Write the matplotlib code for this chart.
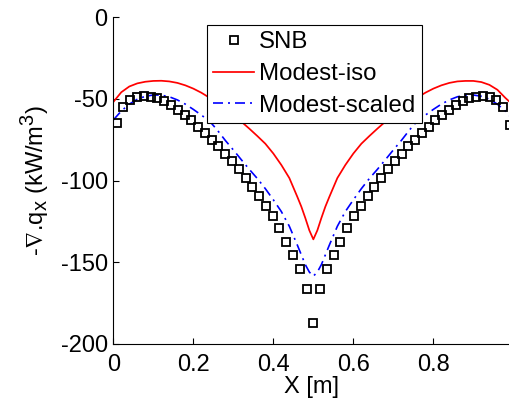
import matplotlib
matplotlib.use("Agg")
import matplotlib.pyplot as plt
try:
    import matplotlib._mathtext as _mt
    _mt.SHRINK_FACTOR = 0.85
except Exception:
    pass

plt.rcParams['font.family'] = ['Liberation Sans', 'DejaVu Sans']
plt.rcParams['mathtext.fontset'] = 'custom'
plt.rcParams['mathtext.rm'] = 'Liberation Sans'
plt.rcParams['mathtext.it'] = 'Liberation Sans'
plt.rcParams['mathtext.sf'] = 'Liberation Sans'
plt.rcParams['mathtext.default'] = 'regular'
plt.rcParams['mathtext.fallback'] = 'stixsans'

# ---------------- data ----------------
snb_x = [(i + 0.5) / 59 for i in range(59)]
snb_y = [-65, -55, -51, -49, -48.5, -48.8, -49.8, -51.5, -53.8, -56.6,
         -59.8, -63.3, -67, -71, -75, -79.2, -83.5, -88.3, -93, -98.5,
         -104, -109.6, -115.5, -121.5, -129, -137.4, -145.6, -154.3, -166.5, -187,
         -166.5, -154.3, -145.6, -137.4, -129, -121.5, -115.5, -109.6, -104,
         -98.5, -93, -88.3, -83.5, -79.2, -75, -71, -67, -63.3, -59.8,
         -56.6, -53.8, -51.5, -49.8, -48.8, -48.5, -49, -51, -55, -66]

iso_x = [0.00, 0.02, 0.04, 0.06, 0.08, 0.10, 0.12, 0.14, 0.16, 0.18,
         0.20, 0.22, 0.24, 0.26, 0.28, 0.30, 0.32, 0.34, 0.36, 0.38,
         0.40, 0.42, 0.44, 0.46, 0.47, 0.48, 0.49, 0.50,
         0.51, 0.52, 0.53, 0.54, 0.56, 0.58, 0.60, 0.62, 0.64, 0.66,
         0.68, 0.70, 0.72, 0.74, 0.76, 0.78, 0.80, 0.82, 0.84, 0.86,
         0.88, 0.90, 0.92, 0.94, 0.96, 0.98, 1.00]
iso_y = [-52, -46, -42.5, -40.6, -39.6, -39.1, -39.0, -39.4, -40.3, -41.8,
         -43.8, -46.3, -49.3, -52.6, -56.2, -60.0, -64.0, -68.3, -72.8, -77.5,
         -83.5, -90.5, -98.5, -110, -116, -123, -130.5, -136,
         -130.5, -123, -116, -110, -98.5, -90.5, -83.5, -77.5, -72.8, -68.3,
         -64.0, -60.0, -56.2, -52.6, -49.3, -46.3, -43.8, -41.8, -40.3, -39.4,
         -39.1, -39.1, -39.8, -41.5, -44.5, -49.5, -54]

sc_x = iso_x
sc_y = [-63, -57.5, -53.3, -50.3, -48.5, -47.7, -47.8, -48.8, -50.7, -53.3,
        -56.5, -60, -63.5, -69.2, -75.5, -81.3, -87.3, -93.2, -98.8, -105,
        -111.8, -119, -128, -139.5, -145.5, -151.5, -156, -158.5,
        -156, -151.5, -145.5, -139.5, -128, -119, -111.8, -105, -98.8, -93.2,
        -87.3, -81.3, -75.5, -69.2, -63.5, -60, -56.5, -53.3, -50.7, -48.8,
        -47.8, -47.7, -48.5, -50.3, -53.3, -57.5, -63]

x_ticks = [0, 0.2, 0.4, 0.6, 0.8]
x_ticklabels = ['0', '0.2', '0.4', '0.6', '0.8']
y_ticks = [0, -50, -100, -150, -200]
y_ticklabels = ['0', '-50', '-100', '-150', '-200']

# ---------------- figure ----------------
FS = 17
fig = plt.figure(figsize=(5.10, 3.99), dpi=100)
ax = fig.add_axes([113.3 / 510, (399 - 344) / 399, 1 - 113.3 / 510, 327 / 399])

ax.plot(snb_x, snb_y, linestyle='none', marker='s', markersize=5.4,
        markerfacecolor='none', markeredgecolor='black', markeredgewidth=1.3,
        label='SNB', zorder=3)
ax.plot(iso_x, iso_y, color='red', linewidth=1.25, label='Modest-iso', zorder=2)
ax.plot(sc_x, sc_y, color='blue', linewidth=1.2, dashes=(6, 3, 1.2, 3),
        label='Modest-scaled', zorder=2)

ax.set_xlim(0, snb_x[-1])
ax.set_ylim(-200, 0)
ax.set_xticks(x_ticks)
ax.set_xticklabels(x_ticklabels)
ax.set_yticks(y_ticks)
ax.set_yticklabels(y_ticklabels)
ax.tick_params(direction='in', length=4, width=0.8, labelsize=FS)
ax.tick_params(axis='y', pad=4)
ax.tick_params(axis='x', pad=7)

for s in ['top', 'right']:
    ax.spines[s].set_visible(False)
for s in ['left', 'bottom']:
    ax.spines[s].set_linewidth(0.8)

ax.set_xlabel('X [m]', fontsize=FS)
ax.set_ylabel(r'-$\nabla$.q$_{x}$ (kW/m$^{3}$)', fontsize=FS)
ax.xaxis.set_label_coords(0.5, -0.097)
ax.yaxis.set_label_coords(-0.158, 0.5)

leg = ax.legend(loc='upper left', bbox_to_anchor=(0.2354, 0.9755),
                fontsize=17.3, frameon=True, fancybox=False, shadow=False,
                borderpad=0.27, labelspacing=0.4, handlelength=1.7,
                handletextpad=0.22, borderaxespad=0.0, numpoints=1)
leg.get_frame().set_edgecolor('black')
leg.get_frame().set_linewidth(0.8)
leg.get_frame().set_alpha(None)
leg.get_frame().set_facecolor('white')

fig.savefig('out.png', dpi=100)
